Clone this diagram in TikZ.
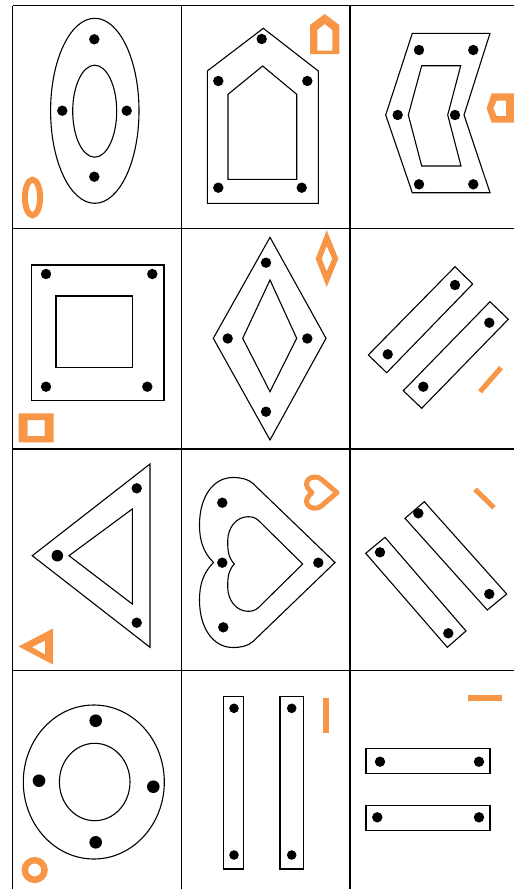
\documentclass[tikz,border=0pt]{standalone}
\definecolor{orng}{HTML}{F79646}
\begin{document}
\begin{tikzpicture}[x=1pt,y=-1pt,
  gridline/.style={line width=1.3pt,black},
  shp/.style={line width=1.1pt,black,line join=miter},
  dotm/.style={fill=black},
  icon/.style={fill=orng,even odd rule},
  iconline/.style={draw=orng,line width=5pt}]
\useasboundingbox (0,0) rectangle (514,889);
% grid
\foreach \x in {12.7,181.7,350} \draw[gridline] (\x,5.7) -- (\x,889);
\foreach \y in {5.7,228.3,449,670.5} \draw[gridline] (12.7,\y) -- (514,\y);

% cell 1: ellipse ring
\draw[shp] (94.8,110.8) ellipse [x radius=44.2pt, y radius=92.5pt];
\draw[shp] (94.7,111.2) ellipse [x radius=22pt, y radius=46pt];
\foreach \p in {(94.3,39.3),(62.3,110.7),(126.7,110.7),(94.3,176.7)} \fill[dotm] \p circle[radius=5.2pt];
\draw[orng,line width=6pt] (32.5,197.5) ellipse [x radius=7.6pt, y radius=17.8pt];

% cell 2: pentagon ring
\draw[shp] (263.3,28.3) -- (318.3,71) -- (318.3,203.3) -- (207.3,203.3) -- (207.3,71) -- cycle;
\draw[shp] (262.7,66) -- (296.7,94.3) -- (296.7,179.3) -- (228,179.3) -- (228,94.3) -- cycle;
\foreach \p in {(261.7,39),(218.3,81),(307.3,81),(218.3,187.7),(301.7,187.7)} \fill[dotm] \p circle[radius=5.2pt];
\fill[icon] (310,54) -- (310,25) -- (324.7,14) -- (339.3,25) -- (339.3,54) -- cycle
  (317.3,50.7) -- (317.3,30) -- (324.7,24) -- (332.3,30) -- (332.3,50.7) -- cycle;

% cell 3: chevron ring
\draw[shp] (412.3,33.3) -- (490,33.3) -- (464,115) -- (490,192.7) -- (412.3,192.7) -- (385.7,115) -- cycle;
\draw[shp] (421.7,65.7) -- (460.7,65.7) -- (447.7,115) -- (461,166) -- (421.7,166) -- (408.3,115) -- cycle;
\foreach \p in {(419,50),(473.3,50),(397.7,115),(455,115),(419,184.3),(473.3,184.3)} \fill[dotm] \p circle[radius=5.2pt];
\fill[icon] (486.7,108.3) -- (491.7,93.3) -- (514,93.3) -- (514,122.7) -- (491.7,122.7) -- cycle
  (493.3,108.3) -- (496.7,100.7) -- (506,100.7) -- (506,116) -- (496.7,116) -- cycle;

% cell 4: square ring
\draw[shp] (31.7,265) rectangle (164,400.7);
\draw[shp] (56,296) rectangle (132.7,367.7);
\foreach \p in {(46,274),(152.3,274),(46,386.7),(147.3,386.7)} \fill[dotm] \p circle[radius=5.2pt];
\fill[icon] (18.7,413.3) rectangle (53.7,442.3) (27.7,420) rectangle (44.7,436);

% cell 5: diamond ring
\draw[shp] (270,237.3) -- (326,338.3) -- (270,440) -- (213.3,338.3) -- cycle;
\draw[shp] (270,280) -- (296.7,338.3) -- (270,391.7) -- (242.7,338.3) -- cycle;
\foreach \p in {(266,262.7),(227.7,338.5),(307.3,338.5),(266,411.7)} \fill[dotm] \p circle[radius=5.2pt];
\fill[icon] (326.7,230.3) -- (338.3,258.7) -- (326.7,287) -- (315.7,258.7) -- cycle
  (326.7,246) -- (332.3,258.7) -- (326.7,271.3) -- (321.7,258.7) -- cycle;

% cell 6: diagonal bars
\draw[shp] (368.3,355) -- (386.7,372.7) -- (472.7,284) -- (455,266.7) -- cycle;
\draw[shp] (403.3,390.7) -- (421.7,408.3) -- (508.3,319.3) -- (490,301.7) -- cycle;
\foreach \p in {(387.7,354.3),(455,285),(423.3,386.7),(489.3,322.7)} \fill[dotm] \p circle[radius=5.2pt];
\draw[iconline] (480,391.7) -- (501,367.7);

% cell 7: triangle ring
\draw[shp] (150,464) -- (150,647.3) -- (32.3,555.7) -- cycle;
\draw[shp] (132.3,509) -- (132.3,604) -- (69,555.7) -- cycle;
\fill[dotm] (136.7,488.3) circle[radius=5.2pt];
\fill[dotm] (136.7,622.7) circle[radius=5.2pt];
\fill[dotm] (57.3,555.7) circle[radius=5.8pt];
\fill[icon] (53,628.5) -- (53,664.5) -- (18.5,646.5) -- cycle
  (45,640.5) -- (45,654.5) -- (32,647.2) -- cycle;

% cell 8: heart ring
\draw[shp] (213.5,562.5) .. controls (203,552) and (199.5,540) .. (199.5,525)
  .. controls (199.5,497) and (213,477.5) .. (233,477.5)
  .. controls (241,477.5) and (248,479) .. (253,483.5)
  -- (335,562.5) -- (253,641.5)
  .. controls (248,646) and (241,647.5) .. (233,647.5)
  .. controls (213,647.5) and (199.5,628) .. (199.5,600)
  .. controls (199.5,585) and (203,573) .. (213.5,562.5) -- cycle;
\draw[shp] (234.3,564) .. controls (228,557) and (227.7,550) .. (227.7,541)
  .. controls (227.7,527) and (237,516.7) .. (248,516.7)
  .. controls (252,516.7) and (255,517.5) .. (258,520)
  -- (302.7,564) -- (258,608)
  .. controls (255,610.5) and (252,611.3) .. (248,611.3)
  .. controls (237,611.3) and (227.7,601) .. (227.7,587)
  .. controls (227.7,578) and (228,571) .. (234.3,564) -- cycle;
\foreach \p in {(222.3,502.7),(222.3,562.7),(318.3,562.7),(223.3,627.3)} \fill[dotm] \p circle[radius=5.2pt];
\draw[orng,line width=5pt,line join=round] (312,492.6) .. controls (308,489) and (306.5,486) .. (306.5,484)
  .. controls (306.5,480) and (310,477) .. (315,477)
  .. controls (317.5,477) and (319.5,477.8) .. (321,479)
  -- (337,492.6) -- (321,506.2)
  .. controls (319.5,507.4) and (317.5,508.2) .. (315,508.2)
  .. controls (310,508.2) and (306.5,505.2) .. (306.5,501.2)
  .. controls (306.5,499.2) and (308,496.2) .. (312,492.6) -- cycle;

% cell 9: diagonal bars (other way)
\draw[shp] (365.7,553.3) -- (385,537.3) -- (466,631) -- (447.3,647.3) -- cycle;
\draw[shp] (405,518.3) -- (424.3,501.7) -- (506.7,594) -- (487.3,610) -- cycle;
\foreach \p in {(380,552.3),(448.3,633.3),(418.3,513.3),(489.3,594)} \fill[dotm] \p circle[radius=5.2pt];
\draw[iconline] (475,489.3) -- (494,507.7);

% cell 10: circle ring
\draw[shp] (93.8,782) ellipse [x radius=70.5pt, y radius=77pt];
\draw[shp] (94.7,782) ellipse [x radius=35.3pt, y radius=38.7pt];
\foreach \p in {(95.7,720.7),(39,780.7),(153.3,786.7),(95.7,842.3)} \fill[dotm] \p circle[radius=6.3pt];
\draw[orng,line width=6.5pt] (34.7,870) circle[radius=9.8pt];

% cell 11: vertical bars
\draw[shp] (223.3,696.7) rectangle (243.3,869);
\draw[shp] (280,696.7) rectangle (303.3,869);
\foreach \p in {(234,708.3),(234,855),(291.7,708.3),(291.7,855)} \fill[dotm] \p circle[radius=4.8pt];
\draw[iconline,line width=6pt] (326,697.7) -- (326,733.3);

% cell 12: horizontal bars
\draw[shp] (366,748.3) rectangle (490,773.3);
\draw[shp] (366,805.7) rectangle (490,830.7);
\foreach \p in {(380,761.7),(479,761.7),(377.3,817.3),(479,817.3)} \fill[dotm] \p circle[radius=5.2pt];
\draw[iconline,line width=5.7pt] (468.3,697.8) -- (501.7,697.8);
\end{tikzpicture}
\end{document}
